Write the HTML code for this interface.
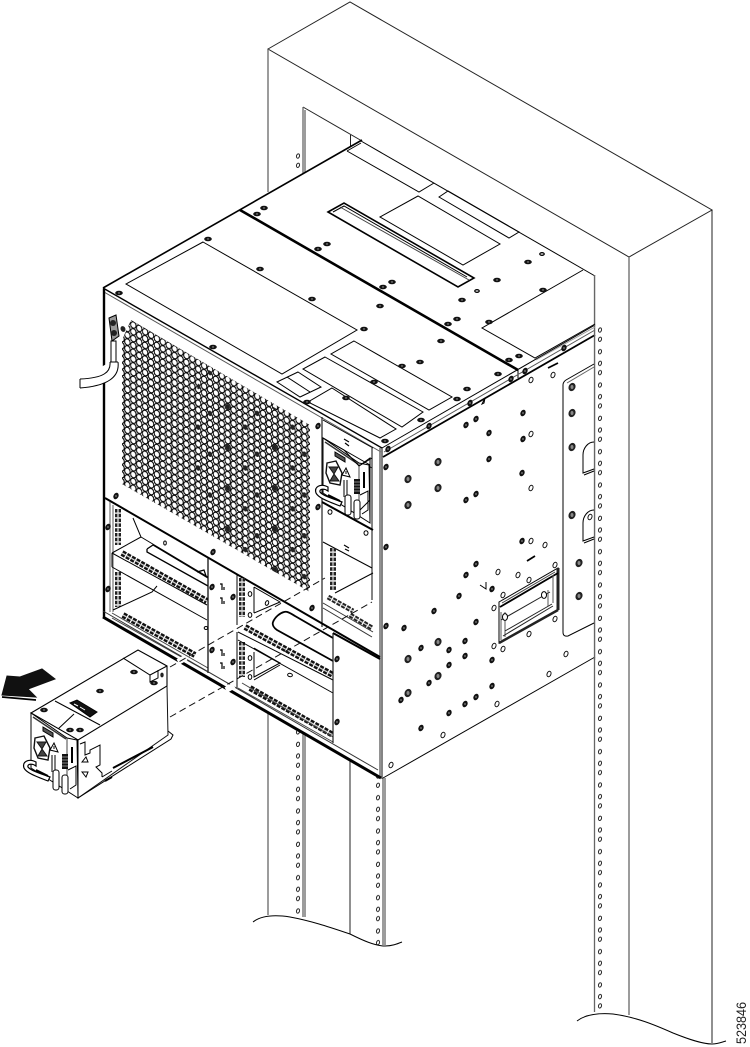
<!DOCTYPE html>
<html><head><meta charset="utf-8"><title>Power supply removal</title>
<style>html,body{margin:0;padding:0;background:#fff}svg{display:block}</style></head>
<body>
<svg xmlns="http://www.w3.org/2000/svg" width="750" height="1047" viewBox="0 0 750 1047" fill="none" stroke="#000" stroke-width="1">
<defs>
<pattern id="h1" patternUnits="userSpaceOnUse" x="597" y="326" width="6" height="33.33"><g fill="#fff" stroke="#222" stroke-width="1"><ellipse cx="3" cy="4" rx="1.5" ry="2.2" transform="rotate(15 3 4)"/><ellipse cx="3" cy="13.3" rx="1.5" ry="2.2" transform="rotate(15 3 13.3)"/><ellipse cx="3" cy="25.7" rx="1.5" ry="2.2" transform="rotate(15 3 25.7)"/></g></pattern>
<pattern id="h2" patternUnits="userSpaceOnUse" x="295" y="18.7" width="6" height="33.33"><g fill="#fff" stroke="#222" stroke-width="1"><ellipse cx="3" cy="4" rx="1.5" ry="2.2" transform="rotate(15 3 4)"/><ellipse cx="3" cy="13.3" rx="1.5" ry="2.2" transform="rotate(15 3 13.3)"/><ellipse cx="3" cy="25.7" rx="1.5" ry="2.2" transform="rotate(15 3 25.7)"/></g></pattern>
<pattern id="h3" patternUnits="userSpaceOnUse" x="375" y="5.4" width="6" height="33.33"><g fill="#fff" stroke="#222" stroke-width="1"><ellipse cx="3" cy="4" rx="1.5" ry="2.2" transform="rotate(15 3 4)"/><ellipse cx="3" cy="13.3" rx="1.5" ry="2.2" transform="rotate(15 3 13.3)"/><ellipse cx="3" cy="25.7" rx="1.5" ry="2.2" transform="rotate(15 3 25.7)"/></g></pattern>
<pattern id="grid" patternUnits="userSpaceOnUse" x="130.35" y="321.6" width="11.8" height="6.8"><g fill="#fff" stroke="#000" stroke-width="1.1"><ellipse cx="2.95" cy="3.4" rx="2.6" ry="3.4" transform="rotate(-25 2.95 3.4)"/><ellipse cx="8.85" cy="0" rx="2.6" ry="3.4" transform="rotate(-25 8.85 0)"/><ellipse cx="8.85" cy="6.8" rx="2.6" ry="3.4" transform="rotate(-25 8.85 6.8)"/></g></pattern>
<pattern id="gridd" patternUnits="userSpaceOnUse" x="130.35" y="321.6" width="47.2" height="40.8"><g fill="#222" stroke="none"><ellipse cx="2.95" cy="3.4" rx="2.2" ry="2.8" transform="rotate(-25 2.95 3.4)"/><ellipse cx="20.65" cy="24" rx="2.2" ry="2.8" transform="rotate(-25 20.65 24)"/><ellipse cx="32.45" cy="10.2" rx="2.2" ry="2.8" transform="rotate(-25 32.45 10.2)"/></g></pattern>
<g id="t"><ellipse rx="3.8" ry="2.3" fill="#111" stroke="none"/><ellipse rx="1.2" ry=".7" fill="#777" stroke="none"/></g>
<g id="s"><ellipse rx="2.5" ry="3.4" transform="rotate(25)" fill="#111" stroke="none"/><ellipse rx=".8" ry="1.1" fill="#777" stroke="none"/></g>
<g id="l"><ellipse rx="3.4" ry="4.3" transform="rotate(25)" fill="#222" stroke="none"/><ellipse rx="1.5" ry="2" fill="#888" stroke="none"/></g>
<ellipse id="r" rx="1.9" ry="2.8" transform="rotate(22)" fill="#fff" stroke="#111" stroke-width="1"/>
<g id="pf">
  <path d="M31 713V768L78 798V740Z" fill="#fff"/>
  <path d="M31 713L67 738 77 740 78 797" />
  <path d="M67 738V775" stroke="#444"/>
  <path d="M33 717L66 739" stroke="#333" stroke-width="1.5"/>
  <path d="M43 727L53 733V737L43 731Z" fill="#555"/>
  <path d="M35 738L44 736 50 748 48 760 38 758 34 748Z" fill="#fff" stroke="#111" stroke-width="1.4"/>
  <path d="M37 742L42 749 46 742ZM38 756L42 749 47 756Z" fill="#444" stroke="#111"/>
  <path d="M54 743L50 750 58 752Z" fill="#fff"/><path d="M54 746V749" stroke-width="1"/>
  <rect x="62" y="754" width="6" height="15" fill="#111" stroke="none"/>
  <path d="M62 757H68M62 760H68M62 763H68M62 766H68" stroke="#888"/>
  <path d="M36 762C28 758 22 762 24 768 26 772 32 775 48 781L50 777C38 773 30 770 28 767 27 764 32 763 36 766Z" fill="#fff" stroke-width="1.2"/>
  <path d="M36 770L48 776" stroke-width="2"/>
  <path d="M52 755V772M55 755V772" stroke-width="1"/>
  <rect x="53" y="770" width="6" height="20" rx="2.5" fill="#fff"/>
  <rect x="62" y="775" width="6" height="19" rx="2.5" fill="#fff"/>
  <path d="M68 770L76 766V785L70 789" fill="#fff"/>
  <path d="M72 747V763" stroke-width="2"/>
</g>
</defs>

<rect width="750" height="1047" fill="#fff" stroke="none"/>

<!-- rack -->
<g stroke="#222">
  <path d="M268 49L350 2 712 210 629 257Z"/>
  <path d="M303 107L362 141"/>
  <path d="M350.5 135V147" />
  <path d="M712 210V1043"/>
</g>
<g stroke="#666" stroke-width="1.3">
  <path d="M268 49V192M268 700V915M629 257V1015"/>
  <path d="M303 107V174M305 110V173"/>
  <path d="M303 720V917M305 720V917"/>
  <path d="M594.5 275V1012"/>
  <path d="M383 778V945M385 778V945" />
</g>
<path d="M350 740V934" stroke="#222"/>
<rect x="295" y="152" width="6" height="20" fill="url(#h2)" stroke="none"/>
<rect x="295" y="720" width="6" height="195" fill="url(#h2)" stroke="none"/>
<rect x="375" y="770" width="6" height="176" fill="url(#h3)" stroke="none"/>
<rect x="597" y="327" width="6" height="684" fill="url(#h1)" stroke="none"/>
<path d="M253 922C262 915 277 915 290 917 312 921 332 928 350 934 362 940 375 946 385 946 392 946 397 944 402 942" stroke="#000" fill="none"/>
<path d="M577 1021C586 1014 600 1013 613 1014 636 1017 655 1025 673 1033 688 1039 702 1044 712 1044 718 1044 722 1042 726 1041" stroke="#000" fill="none"/>

<!-- chassis silhouette -->
<path d="M103 288L361 141 595 276V657L382 778 103 617Z" fill="#fff" stroke="none"/>

<!-- top edges -->
<path d="M103 288L362 140" stroke-width="1.6"/>
<path d="M361 141L595 276" stroke-width="1"/>
<path d="M103 288L382 448" stroke-width="1.4"/>
<path d="M104 292L381 452" stroke="#555"/>
<path d="M240 210L518 370" stroke-width="2.6"/>
<path d="M518 370V378"/>
<path d="M382 448L595 325" stroke-width="1"/>
<path d="M384 452L595 330" stroke="#555"/>
<path d="M383 457L595 335" stroke-width="1.8"/>
<path d="M382 448V779" stroke="#333" stroke-width="1.2"/>
<path d="M380 448V776" stroke="#777" stroke-width="1.6"/>
<path d="M383 778L595 657"/>
<path d="M594.5 275V660" stroke="#666" stroke-width="1.3"/>

<!-- top panels -->
<path d="M203 242L357 330 282 374 126 284Z"/>
<path d="M354 341L452 397 429 410 331 354Z"/>
<path d="M325 357L423 412 402 427 303 369Z"/>
<path d="M332 388L396 429 380 438 308 402Z"/>
<path d="M298 372L321 387 300 397 277 382Z"/>
<path d="M287 377L310 392"/>
<path d="M380 217L418 196 500 244 463 265Z"/>
<path d="M439 197L448 191 519 232 509 238Z"/>
<path d="M347 151L361 143M347 151L419 192 434 183"/>
<path d="M328 212L344 203 474 278 458 287Z" stroke-width="1.6"/>
<path d="M333 212L344 206 467 277"  stroke-width="1"/>
<path d="M340 207L469 280" stroke="#444"/>
<path d="M583 270L482 328 535 358 595 324"/>
<path d="M536 360L595 327" stroke="#999"/>

<!-- fan grid -->
<path d="M131 320L310 425V592L122 484V340Z" fill="url(#grid)" stroke="none"/>
<path d="M200 365L310 428V592L215 538 190 450Z" fill="url(#gridd)" stroke="none"/>

<!-- front frame -->
<path d="M104 289V618" stroke-width="2.4"/>
<path d="M322 417V627" stroke="#222" stroke-width="1.2"/>
<path d="M323 420L373 448M323 438L372 468"/>
<path d="M372 448V600" stroke="#333" stroke-width="1.2"/>

<!-- lug & cable -->
<path d="M109 318L116 315 119 336 112 341Z" fill="#999"/>
<circle cx="113" cy="323" r="3" fill="#222" stroke="none"/><circle cx="114" cy="333" r="3" fill="#222" stroke="none"/>
<path d="M111 341H116V362H111Z" fill="#fff"/>
<path d="M110 362C111 372 104 378 80 379M118 362C120 378 106 386 80 388" fill="#fff"/>
<path d="M80 379V388M110 362H118"/>
<ellipse cx="123" cy="329" rx="2.4" ry="3" fill="#222" stroke="none" transform="rotate(-25 123 329)"/>

<!-- bay region left -->
<path d="M105 498L380 657" stroke-width="2"/>
<path d="M110 502V612M113 505V612" stroke="#777" stroke-width="1.2"/>
<path d="M118 509V545M118 572V607" stroke="#222" stroke-width="6" stroke-dasharray="3.5 1.3"/>
<path d="M118 509V545M118 572V607" stroke="#ccc" stroke-width="1.5" stroke-dasharray="3.5 1.3"/>
<path d="M133 518L141 537 112 553M141 537L208 577"/>
<path d="M147 549L153 545 208 578M147 549L147 552 208 586" stroke-width="1.3"/>
<ellipse cx="165" cy="543" rx="1.3" ry="2"/>
<path d="M112 553L207 605M112 567L207 620M112 553V567" />
<path d="M122 553L207 601" stroke="#111" stroke-width="6" stroke-dasharray="4 1.3"/>
<path d="M122 553L207 601" stroke="#ccc" stroke-width="1.3" stroke-dasharray="4 1.3"/>
<path d="M113 610L152 592 157 586"/>
<path d="M123 615L195 655" stroke="#111" stroke-width="6" stroke-dasharray="4 1.3"/>
<path d="M123 615L195 655" stroke="#ccc" stroke-width="1.3" stroke-dasharray="4 1.3"/>
<path d="M112 618L208 672M112 613L208 668" stroke="#444"/>
<path d="M197 572L204 570 206 576" stroke-width="1.2"/>
<!-- frame strip -->
<path d="M208 558V673" stroke="#111" stroke-width="1.3"/>
<path d="M237 575V625M237 632V688"/>
<path d="M254 587V613M254 652V677" />
<path d="M254 587L280 602 254 613"/>
<path d="M254 663V677L280 663 254 648"/>
<path d="M242 578V617M242 642V677" stroke="#222" stroke-width="6" stroke-dasharray="3.5 1.3"/>
<path d="M242 578V617M242 642V677" stroke="#ccc" stroke-width="1.3" stroke-dasharray="3.5 1.3"/>
<ellipse cx="250" cy="594" rx="1.8" ry="2.4"/><ellipse cx="250" cy="615" rx="1.8" ry="2.4"/><ellipse cx="250" cy="658" rx="1.8" ry="2.4"/><ellipse cx="250" cy="677" rx="1.8" ry="2.4"/>
<ellipse cx="267" cy="603" rx="1.6" ry="2.4" transform="rotate(20 267 603)"/>
<ellipse cx="290" cy="675" rx="2.4" ry="1.7" transform="rotate(10 290 675)"/>
<path d="M220 584H222V590M224 587V590M220 598H222V604M224 601V604M220 650H222V656M224 653V656M220 663H222V669M224 666V669" stroke-width="1.2"/>
<ellipse cx="206" cy="628" rx="1.8" ry="1.5"/>

<!-- middle bay -->
<path d="M273 622C275 617 280 613 284 612 287 611 290 613 295 616L333 638M273 622C272 625 274 628 277 630L333 661" stroke-width="1.8"/>
<path d="M238 632L333 680M238 640L333 693M333 680V693" />
<path d="M245 627L333 675" stroke="#111" stroke-width="6" stroke-dasharray="4 1.3"/>
<path d="M245 627L333 675" stroke="#ccc" stroke-width="1.3" stroke-dasharray="4 1.3"/>
<path d="M254 680L280 665"/>
<path d="M250 688L333 735" stroke="#111" stroke-width="6" stroke-dasharray="4 1.3"/>
<path d="M250 688L333 735" stroke="#ccc" stroke-width="1.3" stroke-dasharray="4 1.3"/>
<path d="M238 688L333 742M242 683L333 737" stroke="#444"/>
<!-- blank panel -->
<path d="M333 633V743" stroke="#222" stroke-width="1.2"/>
<path d="M333 633L380 659" stroke-width="2"/>
<!-- bottom thick edge -->
<path d="M103 617L381 778" stroke-width="3"/>
<path d="M103 611L378 770" stroke="#333"/>

<!-- upper right bay -->
<path d="M322 502L373 530" stroke-width="2"/>
<path d="M323 542L372 568"/>
<path d="M335 593L373 573"/>
<path d="M333 548V590" stroke="#222" stroke-width="6" stroke-dasharray="3.5 1.3"/>
<path d="M333 548V590" stroke="#ccc" stroke-width="1.3" stroke-dasharray="3.5 1.3"/>
<path d="M328 597L353 611M350 615L372 628" stroke="#222" stroke-width="5" stroke-dasharray="4 1.3"/>
<path d="M328 597L353 611M350 615L372 628" stroke="#ccc" stroke-width="1.2" stroke-dasharray="4 1.3"/>
<path d="M323 603L373 632M323 608L372 637" stroke="#333"/>
<ellipse cx="330" cy="512" rx="2" ry="2.3"/><ellipse cx="366" cy="533" rx="2" ry="2.3"/>
<path d="M344 545L349 548M345 549L349 551" stroke-width="1.2"/>
<path d="M344 439L349 442M345 443L349 446" stroke-width="1.2"/>
<use href="#pf" transform="translate(292 -275)"/>
<path d="M323 438L344 450 359 466 370 458V500L360 510" />
<path d="M359 466L372 458" />

<!-- side screws -->
<g>
<use href="#l" x="408" y="479"/><use href="#l" x="408" y="505"/><use href="#l" x="438" y="462"/><use href="#l" x="438" y="488"/>
<use href="#l" x="438" y="642"/><use href="#l" x="408" y="659"/><use href="#l" x="438" y="676"/><use href="#l" x="408" y="693"/>
<use href="#s" x="386" y="467"/><use href="#s" x="466" y="425"/><use href="#s" x="476" y="419"/><use href="#s" x="466" y="500"/><use href="#s" x="476" y="494"/><use href="#s" x="489" y="433"/><use href="#s" x="489" y="459"/><use href="#s" x="523" y="413"/><use href="#s" x="523" y="439"/><use href="#s" x="522" y="473"/><use href="#s" x="522" y="541"/><use href="#s" x="386" y="547"/><use href="#s" x="386" y="626"/><use href="#s" x="404" y="628"/><use href="#s" x="421" y="648"/><use href="#s" x="449" y="650"/><use href="#s" x="465" y="641"/><use href="#s" x="465" y="656"/><use href="#s" x="449" y="665"/><use href="#s" x="429" y="683"/><use href="#s" x="401" y="700"/><use href="#s" x="421" y="728"/><use href="#s" x="449" y="713"/><use href="#s" x="465" y="704"/><use href="#s" x="476" y="697"/><use href="#s" x="492" y="686"/><use href="#s" x="492" y="660"/><use href="#s" x="476" y="622"/><use href="#s" x="434" y="611"/><use href="#s" x="459" y="596"/><use href="#s" x="466" y="575"/><use href="#s" x="476" y="564"/><use href="#s" x="492" y="589"/>
<use href="#s" x="388" y="449"/><use href="#s" x="429" y="426"/><use href="#s" x="470" y="403"/><use href="#s" x="511" y="379"/><use href="#s" x="525" y="371"/><use href="#s" x="564" y="348"/>
<use href="#s" x="116" y="496"/><use href="#s" x="213" y="552"/><use href="#s" x="108" y="527"/><use href="#s" x="108" y="589"/><use href="#s" x="212" y="587"/><use href="#s" x="212" y="650"/><use href="#s" x="233" y="597"/><use href="#s" x="233" y="662"/><use href="#s" x="312" y="608"/><use href="#s" x="337" y="659"/><use href="#s" x="337" y="722"/><use href="#s" x="318" y="507"/><use href="#s" x="318" y="426"/>
</g>
<!-- top screws -->
<g>
<use href="#t" x="208" y="239"/><use href="#t" x="260" y="269"/><use href="#t" x="312" y="299"/><use href="#t" x="364" y="329"/><use href="#t" x="213" y="347"/><use href="#t" x="119" y="293"/><use href="#t" x="264" y="208"/><use href="#t" x="257" y="214"/><use href="#t" x="327" y="244"/><use href="#t" x="318" y="249"/><use href="#t" x="392" y="282"/><use href="#t" x="383" y="287"/><use href="#t" x="380" y="306"/><use href="#t" x="402" y="366"/><use href="#t" x="374" y="382"/><use href="#t" x="346" y="398"/><use href="#t" x="307" y="402"/><use href="#t" x="385" y="441"/><use href="#t" x="420" y="362"/><use href="#t" x="441" y="341"/><use href="#t" x="448" y="324"/><use href="#t" x="457" y="319"/><use href="#t" x="462" y="300"/><use href="#t" x="467" y="389"/><use href="#t" x="457" y="399"/><use href="#t" x="498" y="374"/><use href="#t" x="509" y="360"/><use href="#t" x="519" y="356"/><use href="#t" x="489" y="322"/><use href="#t" x="421" y="420"/><use href="#t" x="543" y="290"/><use href="#t" x="497" y="280"/><use href="#t" x="528" y="262"/>
<ellipse cx="542" cy="254" rx="2.2" ry="1.3" stroke-width="1.3"/><ellipse cx="477" cy="291" rx="2.2" ry="1.3" stroke-width="1.3"/>
</g>
<!-- side rings -->
<g>
<use href="#r" x="531" y="380"/><use href="#r" x="553" y="375"/><use href="#r" x="531" y="434"/><use href="#r" x="531" y="488"/><use href="#r" x="531" y="541"/><use href="#r" x="545" y="545"/><use href="#r" x="498" y="572"/><use href="#r" x="518" y="575"/><use href="#r" x="529" y="580"/><use href="#r" x="555" y="565"/><use href="#r" x="503" y="595"/><use href="#r" x="494" y="608"/><use href="#r" x="494" y="646"/><use href="#r" x="503" y="649"/><use href="#r" x="529" y="634"/><use href="#r" x="555" y="619"/><use href="#r" x="566" y="654"/><use href="#r" x="549" y="674"/><use href="#r" x="497" y="704"/><use href="#r" x="443" y="735"/><use href="#r" x="391" y="765"/><use href="#r" x="590" y="517"/>
</g>
<path d="M527 561L535 556M548 368L558 363" stroke-width="1.8"/>
<path d="M480 585L486 589V582"/>
<path d="M484 403L485 398 482 404Z"/>

<!-- ear bracket -->
<path d="M594 364L566 380Q563 382 563 385V632Q563 637 568 636L594 623"/>
<path d="M594 367L567 383" stroke="#666"/>
<use href="#l" x="572" y="387"/><use href="#l" x="572" y="413"/><use href="#l" x="572" y="447"/><use href="#l" x="572" y="515"/><use href="#l" x="579" y="563"/><use href="#l" x="579" y="596"/>
<path d="M594 442C588 442 583 448 583 455V473L594 469M584 475L594 471"/>
<path d="M594 510C588 510 583 516 583 523V541L594 537M584 543L594 539"/>

<!-- side handle -->
<path d="M499 602L558 568V610L499 643Z" fill="#fff"/>
<path d="M558 568V610" stroke="#222" stroke-width="3"/>
<path d="M499 643L558 610" stroke="#222" stroke-width="2.5"/>
<path d="M500 607L558 573" stroke-width="1.8"/>
<path d="M502 603L555 572" stroke="#444"/>
<path d="M501 612V640M505 612V637" stroke="#555"/>
<path d="M501 620L550 592M505 631L552 604M503 636L553 606" stroke="#222"/>
<path d="M548 590V606M553 575V603" stroke="#555"/>
<ellipse cx="505" cy="617" rx="2.5" ry="3.4" fill="#fff"/><ellipse cx="544" cy="595" rx="2.5" ry="3.4" fill="#fff"/>

<!-- PSU -->
<path d="M31 713L138 650 167 665V735L78 798 31 768Z" fill="#fff" stroke="none"/>
<path d="M31 713L138 650 167 666V686L78 740 31 713Z" stroke-width="1.1"/>
<path d="M123 658L150 675 167 666M150 675V682L158 678V670" stroke-width="1"/>
<path d="M167 686L168 735 78 798V740" stroke="#111"/>
<path d="M55 701L100 725"/>
<path d="M74 714L57 730"/>
<path d="M70 703L77 700 97 712 90 717Z" fill="#111"/>
<path d="M74 704L78 706M80 707L85 710" stroke="#fff"/>
<use href="#t" x="134" y="672"/><use href="#t" x="100" y="691"/><use href="#t" x="154" y="683"/><use href="#t" x="44" y="710"/><use href="#t" x="70" y="730"/><use href="#t" x="80" y="730"/>
<ellipse cx="162" cy="675" rx="1.7" ry="2.4" fill="#222" stroke="none"/>
<use href="#pf"/>
<path d="M80 744L85 742V755L90 753V750L100 745 100 765 96 767 102 773V777"  stroke-width="1"/>
<path d="M82 762L86 757 88 762ZM82 772L86 777 88 772Z" fill="#fff"/>
<path d="M102 777L112 771" />
<path d="M113 768L153 747" stroke-width="2"/>
<path d="M105 781L112 777" stroke-width="2"/>
<path d="M168 731L173 735 171 739 78 798"/>
<!-- arrow -->
<path d="M2 695L7 676 20 677 42 669 55 679 28 689 36 697Z" fill="#111" stroke="#111"/>
<path d="M2 697L36 700" stroke-width="1.8"/>

<!-- dashed connectors -->
<path d="M178 662L186 657.5M226 690L234 685.5" stroke="#fff" stroke-width="6"/>
<path d="M170 667L325 578" stroke="#111" stroke-dasharray="7 4"/>
<path d="M170 717L372 602" stroke="#111" stroke-dasharray="7 4"/>

<text transform="translate(746 1044) rotate(-90)" font-family="'Liberation Sans',sans-serif" font-size="13.5" fill="#222" stroke="none" textLength="42" lengthAdjust="spacingAndGlyphs">523846</text>
</svg>
</body></html>
